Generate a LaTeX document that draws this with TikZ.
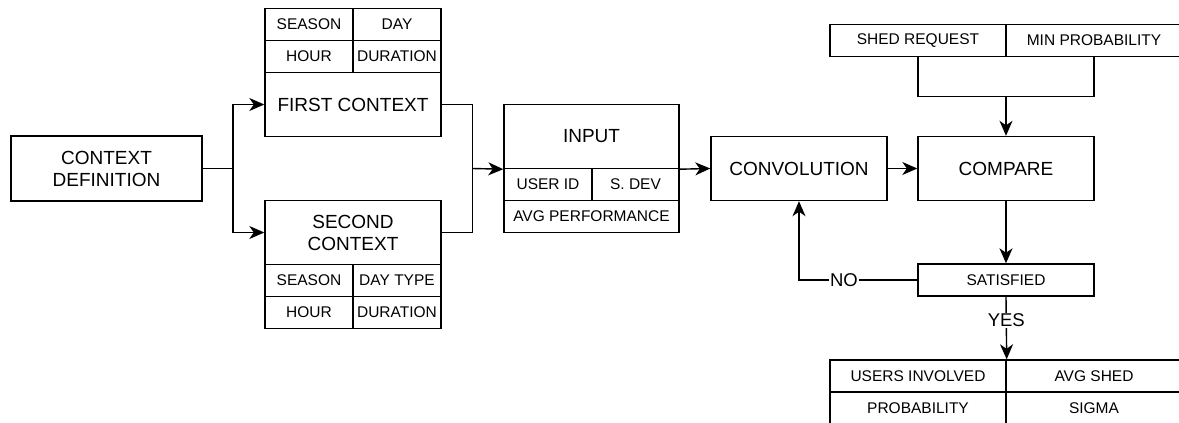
\documentclass[tikz,border=0pt]{standalone}
\usepackage{fontspec}
\setmainfont{Liberation Sans}
\usetikzlibrary{arrows.meta}
\tikzset{
  box/.style={draw, line width=1.4pt, inner sep=0pt, align=center,
    font=\fontsize{19}{22}\selectfont},
  cell/.style={box, minimum width=88pt, minimum height=32pt,
    font=\fontsize{15.5}{18}\selectfont},
  wide/.style={minimum width=176pt, minimum height=32pt},
  big/.style={box, minimum width=176pt, minimum height=64pt},
  link/.style={line width=1.4pt},
  flow/.style={link, -{Stealth[length=15pt,width=13pt,inset=4.5pt]}},
  tag/.style={fill=white, inner sep=1pt, font=\fontsize{18.5}{20}\selectfont}
}
\begin{document}
\begin{tikzpicture}[x=1pt, y=-1pt]
\useasboundingbox (0,0) rectangle (1179,423);
\clip (0,0) rectangle (1179,423);

% start block
\node[box, minimum width=191pt, minimum height=65pt] (ctxdef) at (106.5,168.5) {CONTEXT\\DEFINITION};

% first context with its attribute table
\node[cell] (season1) at (309,24.5) {SEASON};
\node[cell] (day1) at (397,24.5) {DAY};
\node[cell] (hour1) at (309,56.5) {HOUR};
\node[cell] (dur1) at (397,56.5) {DURATION};
\node[big] (first) at (353,104.5) {FIRST CONTEXT};

% second context with its attribute table
\node[big] (second) at (353,232.5) {SECOND\\CONTEXT};
\node[cell] (season2) at (309,280.5) {SEASON};
\node[cell] (day2) at (397,280.5) {DAY TYPE};
\node[cell] (hour2) at (309,312.5) {HOUR};
\node[cell] (dur2) at (397,312.5) {DURATION};

% input block
\node[big, minimum width=175pt] (input) at (591.5,136.5) {INPUT};
\node[cell] (uid) at (548,184.5) {USER ID};
\node[cell, minimum width=87pt] (sdev) at (635.5,184.5) {S. DEV};
\node[cell, minimum width=175pt] (avgperf) at (591.5,216.5) {AVG PERFORMANCE};

% processing blocks
\node[big] (conv) at (799,168.5) {CONVOLUTION};
\node[big] (cmp) at (1006,168.5) {COMPARE};

% requirement table
\node[cell, wide] (shed) at (918,40.5) {SHED REQUEST};
\node[cell, wide] (minp) at (1094,40.5) {MIN PROBABILITY};

% decision
\node[cell, wide] (sat) at (1006,280) {SATISFIED};

% result table
\node[cell, wide] (users) at (918,376) {USERS INVOLVED};
\node[cell, wide] (avgshed) at (1094,376) {AVG SHED};
\node[cell, wide] (prob) at (918,408) {PROBABILITY};
\node[cell, wide] (sigma) at (1094,408) {SIGMA};

% junction points
\coordinate (split) at (233,168.5);
\coordinate (merge) at (472.5,168.5);
\coordinate (req) at (1006,96.5);
\coordinate (back) at (799,280);

% connectors
\draw[link] (ctxdef.east) -- (split);
\draw[flow] (split) |- (first.west);
\draw[flow] (split) |- (second.west);
\draw[link] (first.east) -| (merge);
\draw[link] (second.east) -| (merge);
\draw[flow] (merge) -- (input.south west);
\draw[flow] (input.south east) -- (conv.west);
\draw[flow] (conv.east) -- (cmp.west);
\draw[link] (shed.south) |- (req) -| (minp.south);
\draw[flow] (req) -- (cmp.north);
\draw[flow] (cmp.south) -- (sat.north);
\draw[flow] (sat.west) -- node[tag, pos=0.62] {NO} (back) -- (conv.south);
\draw[flow] (sat.south) -- node[tag, pos=0.375] {YES} (users.north east);
\end{tikzpicture}
\end{document}
